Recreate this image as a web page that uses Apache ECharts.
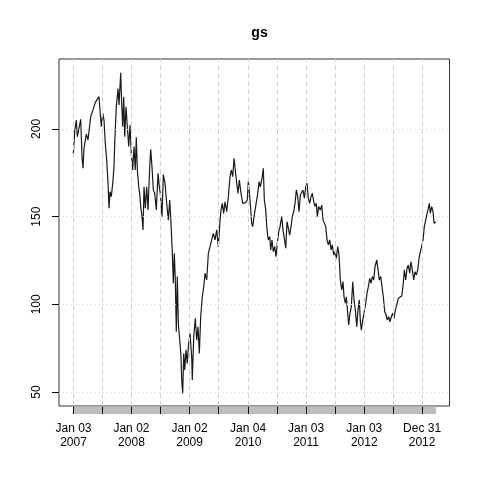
<!DOCTYPE html>
<html>
<head>
<meta charset="utf-8">
<script src="https://cdn.jsdelivr.net/npm/echarts@6/dist/echarts.min.js"></script>
<style>html,body{margin:0;padding:0;background:#fff;}#c{width:480px;height:480px;}</style>
</head>
<body>
<div id="c"></div>
<script>
const years = [
2007.000,2007.024,2007.052,2007.069,2007.093,2007.127,2007.150,2007.167,2007.184,2007.224,
2007.253,2007.275,2007.299,2007.339,2007.378,2007.413,2007.442,2007.459,2007.482,2007.506,
2007.528,2007.550,2007.574,2007.597,2007.614,2007.631,2007.653,2007.678,2007.700,2007.712,
2007.739,2007.769,2007.786,2007.815,2007.832,2007.850,2007.867,2007.884,2007.906,2007.929,
2007.953,2007.975,2007.997,2008.021,2008.044,2008.066,2008.083,2008.101,2008.125,2008.142,
2008.159,2008.181,2008.199,2008.216,2008.238,2008.262,2008.285,2008.314,2008.331,2008.353,
2008.376,2008.400,2008.427,2008.457,2008.479,2008.496,2008.525,2008.548,2008.577,2008.606,
2008.634,2008.658,2008.680,2008.703,2008.720,2008.737,2008.754,2008.771,2008.788,2008.806,
2008.830,2008.852,2008.864,2008.881,2008.899,2008.916,2008.938,2008.960,2008.978,2009.007,
2009.036,2009.046,2009.071,2009.098,2009.122,2009.144,2009.167,2009.191,2009.218,2009.243,
2009.265,2009.294,2009.322,2009.351,2009.380,2009.408,2009.437,2009.466,2009.494,2009.523,
2009.540,2009.562,2009.586,2009.609,2009.638,2009.666,2009.695,2009.717,2009.741,2009.764,
2009.786,2009.810,2009.832,2009.855,2009.884,2009.913,2009.941,2009.965,2009.992,2010.009,
2010.039,2010.068,2010.085,2010.108,2010.142,2010.171,2010.194,2010.216,2010.240,2010.267,
2010.285,2010.309,2010.331,2010.353,2010.378,2010.395,2010.417,2010.439,2010.463,2010.486,
2010.508,2010.532,2010.555,2010.584,2010.606,2010.629,2010.653,2010.675,2010.697,2010.721,
2010.744,2010.766,2010.790,2010.813,2010.835,2010.859,2010.881,2010.904,2010.928,2010.950,
2010.973,2010.997,2011.019,2011.041,2011.065,2011.088,2011.110,2011.134,2011.157,2011.179,
2011.196,2011.220,2011.248,2011.272,2011.294,2011.316,2011.341,2011.363,2011.385,2011.409,
2011.432,2011.454,2011.478,2011.501,2011.523,2011.547,2011.569,2011.592,2011.616,2011.638,
2011.655,2011.678,2011.695,2011.719,2011.736,2011.758,2011.781,2011.805,2011.827,2011.850,
2011.874,2011.896,2011.918,2011.935,2011.953,2011.977,2011.999,2012.028,2012.051,2012.073,
2012.097,2012.120,2012.142,2012.166,2012.188,2012.218,2012.240,2012.262,2012.286,2012.309,
2012.331,2012.355,2012.378,2012.400,2012.424,2012.446,2012.469,2012.493,2012.515,2012.538,
2012.562,2012.589,2012.618,2012.647,2012.675,2012.692,2012.716,2012.739,2012.761,2012.785,
2012.807,2012.830,2012.854,2012.876,2012.899,2012.923,2012.945,2012.967,2012.991,2013.014,
2013.036,2013.060,2013.083,2013.105,2013.122,2013.139,2013.163,2013.186,2013.203,2013.236
];
const closes = [
185.6,198.5,205.0,195.6,199.4,205.5,184.0,177.6,189.0,197.0,
193.7,194.7,207.0,211.0,215.0,217.0,218.4,210.8,201.3,209.0,
205.0,191.8,182.3,169.0,154.8,164.2,161.4,169.0,178.5,191.8,
212.7,223.0,213.7,232.0,214.6,201.3,218.4,195.6,212.7,201.3,
190.0,202.3,186.0,176.6,190.0,176.6,195.3,176.6,167.0,163.3,
155.7,150.0,142.4,167.0,154.8,167.0,153.8,178.5,188.4,178.5,
165.2,163.3,153.8,174.7,167.0,163.3,150.0,174.0,169.0,157.6,
148.0,159.5,146.2,129.0,112.0,129.0,113.9,84.4,115.8,89.2,
79.6,70.1,56.8,49.2,72.0,62.5,74.0,66.3,75.8,83.5,
70.1,56.8,81.5,92.0,79.6,87.2,72.0,93.0,104.3,110.0,
117.7,113.9,129.0,132.9,136.7,140.5,136.7,142.4,132.9,148.0,
153.8,157.6,151.9,158.5,152.8,161.4,172.8,176.6,172.8,183.3,
176.6,169.0,163.3,170.9,163.3,157.6,156.6,158.0,159.5,170.0,
159.5,146.2,144.3,150.0,150.9,163.3,170.0,167.0,170.9,177.6,
159.5,153.8,142.4,136.7,138.6,131.0,136.7,130.0,132.9,127.2,
134.8,141.4,144.3,150.0,142.4,142.4,132.0,147.1,148.0,139.5,
144.3,150.0,152.8,157.6,165.2,161.4,152.8,162.3,163.3,165.2,
160.5,167.0,169.0,160.5,157.6,161.4,163.3,158.5,155.7,157.6,
150.0,155.7,153.8,156.6,148.0,147.1,144.3,136.7,133.9,136.7,
131.0,133.9,128.1,130.0,126.2,132.9,128.1,113.9,108.2,112.9,
104.3,100.6,104.3,94.9,88.2,94.9,98.6,112.9,102.5,96.7,
87.2,96.7,102.5,91.0,85.3,91.0,94.9,100.6,106.3,110.0,
114.8,112.0,115.8,113.9,121.5,125.3,119.6,113.9,115.8,110.0,
104.3,95.8,93.9,91.0,92.9,90.0,92.9,94.9,92.0,96.7,
99.6,103.4,104.3,104.7,112.0,119.6,113.9,120.6,122.4,117.7,
124.3,119.6,113.9,118.6,116.7,119.6,126.2,130.0,132.9,136.7,
144.3,148.0,151.9,154.8,157.6,151.9,155.7,152.8,146.2,147.0
];
const yTicks = [50, 100, 150, 200];
const xTickPos = [2007.003, 2008.0, 2009.0, 2010.005, 2011.003, 2012.003, 2012.997];
const xTickLabels = ['Jan 03\n2007','Jan 02\n2008','Jan 02\n2009','Jan 04\n2010','Jan 03\n2011','Jan 03\n2012','Dec 31\n2012'];
const halfYears = [2007.0,2007.5,2008.0,2008.5,2009.0,2009.5,2010.0,2010.5,2011.0,2011.5,2012.0,2012.5,2013.0];

const FONT = '"Liberation Sans", Arial, Helvetica, sans-serif';
const xMin = 2006.754, xMax = 2013.469;
const chart = echarts.init(document.getElementById('c'), null, {renderer: 'canvas'});
chart.setOption({
  animation: false,
  backgroundColor: '#ffffff',
  title: {
    text: 'gs', left: 254.5, top: 21, textAlign: 'center',
    textStyle: {fontFamily: FONT, fontSize: 14, fontWeight: 'bold', color: '#000'}
  },
  grid: [
    {left: 59, top: 59, width: 390.5, height: 347, show: true, borderColor: '#333', borderWidth: 1, backgroundColor: 'transparent'},
    {left: 59, top: 406.5, width: 390.5, height: 7.5, show: false}
  ],
  xAxis: [
    {type: 'value', gridIndex: 0, min: xMin, max: xMax,
      axisLine: {show: false}, axisTick: {show: false}, axisLabel: {show: false}, splitLine: {show: false}},
    {type: 'value', gridIndex: 1, min: xMin, max: xMax,
      axisLine: {show: false}, axisTick: {show: false}, splitLine: {show: false},
      axisLabel: {show: true, customValues: xTickPos, margin: 8, fontFamily: FONT, fontSize: 12, lineHeight: 14, color: '#000',
        formatter: function (v) { const i = xTickPos.findIndex(p => Math.abs(p - v) < 1e-6); return i >= 0 ? xTickLabels[i] : ''; }}}
  ],
  yAxis: [
    {type: 'value', gridIndex: 0, min: 42, max: 239.9,
      axisLine: {show: false}, splitLine: {show: false},
      axisTick: {show: true, customValues: yTicks, length: 7, lineStyle: {color: '#000', width: 1}},
      axisLabel: {show: true, customValues: yTicks, rotate: 90, margin: 16, fontFamily: FONT, fontSize: 12, color: '#000'}},
    {type: 'value', gridIndex: 1, min: 0, max: 1, show: false}
  ],
  series: [
    {type: 'line', xAxisIndex: 0, yAxisIndex: 0, data: [], z: 1, silent: true,
      markLine: {silent: true, symbol: 'none', label: {show: false}, animation: false,
        data: halfYears.map(v => ({xAxis: v, lineStyle: {color: '#d2d2d2', type: [5, 3], width: 1}}))
          .concat(yTicks.map(v => ({yAxis: v, lineStyle: {color: '#d6d6d6', type: [1, 3], width: 1}})))}},
    {type: 'line', xAxisIndex: 0, yAxisIndex: 0, z: 3, silent: true,
      data: years.map((y, i) => [y, closes[i]]),
      showSymbol: false, symbol: 'none',
      lineStyle: {color: '#1a1a1a', width: 1.2}},
    {type: 'line', xAxisIndex: 1, yAxisIndex: 1, data: [], z: 2, silent: true,
      markArea: {silent: true, itemStyle: {color: '#bebebe'},
        data: [[{xAxis: years[0], yAxis: 0}, {xAxis: years[years.length - 1], yAxis: 1}]]},
      markLine: {silent: true, symbol: 'none', label: {show: false}, animation: false,
        data: halfYears.map(v => ({xAxis: v, lineStyle: {color: '#111', type: 'solid', width: 1}}))}}
  ]
});
</script>
</body>
</html>
